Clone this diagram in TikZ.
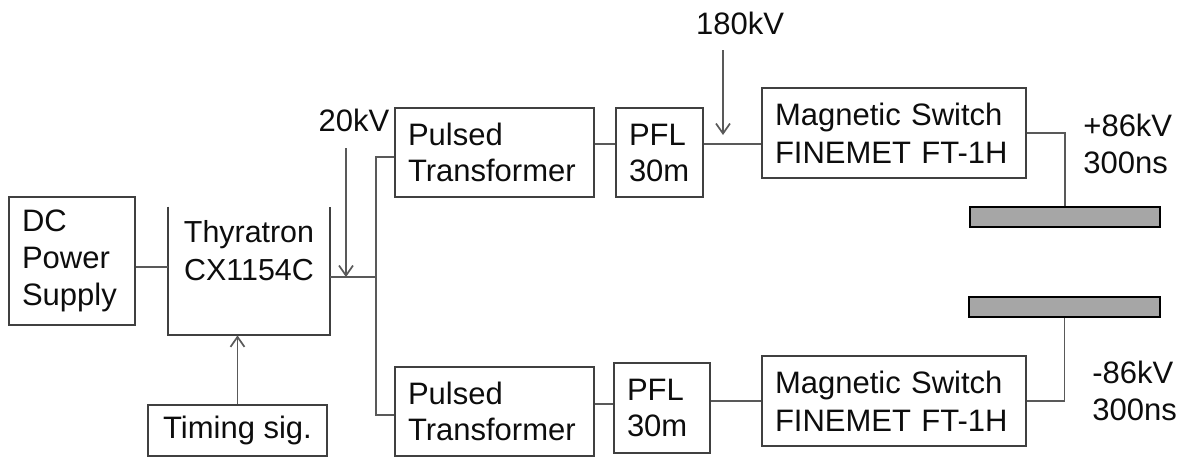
\documentclass[tikz,border=0pt]{standalone}
\usepackage{fontspec}
\setmainfont{Liberation Sans}
\usetikzlibrary{arrows.meta}
\begin{document}
\begin{tikzpicture}[x=0.5pt,y=-0.5pt,
 box/.style={draw=black!75, line width=1pt, inner ysep=0pt, inner xsep=6.5pt, font=\fontsize{15.5}{18.5}\selectfont, text=black!95, align=left},
 conn/.style={draw=black!65, line width=0.85pt},
 arr/.style={conn,-{Straight Barb[length=5pt,width=7pt]}},
 lbl/.style={font=\fontsize{15.5}{18.5}\selectfont, inner sep=0pt, text=black!95, align=left},
 bar/.style={draw=black, line width=1.3pt, fill=black!35, inner sep=0pt}]
\useasboundingbox (0,0) rectangle (1182,457);

% boxes
\node[box, minimum width=63pt, minimum height=64pt, text width=50pt] (dc) at (72,261) {DC\\Power\\Supply};
\node[minimum width=81pt, minimum height=64pt, inner sep=0pt] (thy) at (249,271) {};
\draw[box] (thy.north west) -- (thy.south west) -- (thy.south east) -- (thy.north east);
\node[lbl, align=center, font=\fontsize{15.2}{19}\selectfont] (thytxt) at (249,251) {Thyratron\\CX1154C};
\node[box, align=center, inner xsep=0pt, minimum width=89.5pt, minimum height=25.5pt] (tim) at (237.5,430.5) {Timing sig.};

\node[box, minimum width=99.5pt, minimum height=44.5pt, text width=86.5pt, font=\fontsize{15.5}{18}\selectfont] (pt1) at (494.5,152.5) {Pulsed\\Transformer};
\node[box, minimum width=43.5pt, minimum height=44.5pt, text width=30.5pt, font=\fontsize{15.5}{18}\selectfont] (pfl1) at (659.5,152.5) {PFL\\30m};
\node[box, minimum width=132pt, minimum height=45pt, text width=119pt, font=\fontsize{15.5}{19}\selectfont] (ms1) at (894,133) {Magnetic Switch\\FINEMET FT-1H};

\node[box, minimum width=99.5pt, minimum height=44.5pt, text width=86.5pt, font=\fontsize{15.5}{18}\selectfont] (pt2) at (494.5,411.5) {Pulsed\\Transformer};
\node[box, minimum width=48pt, minimum height=45pt, text width=35pt, font=\fontsize{15.5}{18}\selectfont] (pfl2) at (662,408) {PFL\\30m};
\node[box, minimum width=132pt, minimum height=45pt, text width=119pt, font=\fontsize{15.5}{19}\selectfont] (ms2) at (894,401) {Magnetic Switch\\FINEMET FT-1H};

\node[bar, minimum width=95pt, minimum height=10pt] (bar1) at (1065,217) {};
\node[bar, minimum width=95.5pt, minimum height=10pt] (bar2) at (1064.5,307) {};

% labels
\node[lbl] (kv20) at (354,120) {20kV};
\node[lbl] (kv180) at (740,23) {180kV};
\node[lbl, anchor=west] (out1) at (1083,143.5) {+86kV\\300ns};
\node[lbl, anchor=west] (out2) at (1092,390.5) {-86kV\\300ns};

% helper coordinates
\coordinate (h267) at (0,267);
\coordinate (h277) at (0,277);
\coordinate (h157) at (0,157);
\coordinate (h415) at (0,415);
\coordinate (h144) at (0,144);
\coordinate (h135) at (0,135);
\coordinate (h404) at (0,404);
\coordinate (busx) at (376,0);
\coordinate (a20s) at (346,148);
\coordinate (a180s) at (723,50);

% connectors
\draw[conn] (dc.east |- h267) -- (thy.west |- h267);
\draw[conn] (thy.east |- h277) -- (busx |- h277);
\draw[conn] (pt1.west |- h157) -| (busx |- h415) -- (pt2.west |- h415);
\draw[arr] (a20s) -- (a20s |- h277);
\draw[arr] (tim.north) -- (tim.north |- thy.south);
\draw[conn] (pt1.east |- h144) -- (pfl1.west |- h144);
\draw[conn] (pfl1.east |- h144) -- (ms1.west |- h144);
\draw[arr] (a180s) -- (a180s |- h135);
\draw[conn] (ms1.east) -| (bar1.north);
\draw[conn] (pt2.east |- h404) -- (pfl2.west |- h404);
\draw[conn] (pfl2.east |- ms2.west) -- (ms2.west);
\draw[conn] (ms2.east) -| (bar2.south);
\end{tikzpicture}
\end{document}
